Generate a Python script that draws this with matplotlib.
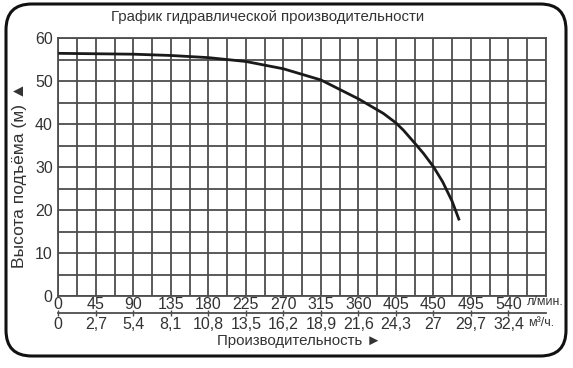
import matplotlib
matplotlib.use("Agg")
import matplotlib.pyplot as plt
from matplotlib.patches import FancyBboxPatch

plt.rcParams['font.family'] = ['Liberation Sans', 'DejaVu Sans']

# Data
flow_lpm = [0, 45, 90, 135, 180, 225, 270, 315, 360, 390, 405, 414, 427.5, 438, 450, 461, 472.5, 481]
head_m = [56.5, 56.4, 56.3, 56.0, 55.5, 54.6, 52.9, 50.3, 45.9, 42.5, 40.3, 38.6, 35.6, 33.2, 30.1, 26.6, 22.0, 17.6]

x_ticks_lpm = [0, 45, 90, 135, 180, 225, 270, 315, 360, 405, 450, 495, 540]
x_labels_lpm = ['0', '45', '90', '135', '180', '225', '270', '315', '360', '405', '450', '495', '540']
x_ticks_m3h = [0, 2.7, 5.4, 8.1, 10.8, 13.5, 16.2, 18.9, 21.6, 24.3, 27, 29.7, 32.4]
x_labels_m3h = ['0', '2,7', '5,4', '8,1', '10,8', '13,5', '16,2', '18,9', '21,6', '24,3', '27', '29,7', '32,4']
y_ticks = [0, 10, 20, 30, 40, 50, 60]

W, H = 573, 368
fig = plt.figure(figsize=(W / 100, H / 100), dpi=100)
fig.patch.set_facecolor('white')

# rounded frame
frame = FancyBboxPatch((6 / W, 1 - 356 / H), 560 / W, 352 / H,
                       boxstyle="round,pad=0,rounding_size=0.045",
                       transform=fig.transFigure, fill=False,
                       edgecolor='#111111', linewidth=2.2, mutation_aspect=W / H)
fig.patches.append(frame)

left, right, top, bottom = 58.3, 546, 38.3, 296
ax = fig.add_axes([left / W, 1 - bottom / H, (right - left) / W, (bottom - top) / H])
grid_c = '#4d4d4d'
ax.set_xlim(0, 585)
ax.set_ylim(0, 60)
ax.set_xticks([i * 22.5 for i in range(27)], minor=True)
ax.set_yticks([i * 5 for i in range(13)], minor=True)
ax.grid(True, which='both', color=grid_c, linewidth=1.3)
ax.set_axisbelow(True)
for s in ax.spines.values():
    s.set_color(grid_c)
    s.set_linewidth(1.3)

ax.plot(flow_lpm, head_m, color='#1a1a1a', linewidth=2.0, solid_capstyle='butt',
        solid_joinstyle='round', zorder=3)

ax.set_yticks(y_ticks)
ax.set_yticklabels([str(v) for v in y_ticks], fontsize=11.5, color='#333333')
ax.set_xticks(x_ticks_lpm)
ax.set_xticklabels(x_labels_lpm, fontsize=11.5, color='#333333')
ax.tick_params(axis='both', which='both', length=0)
ax.tick_params(axis='x', pad=1)
ax.tick_params(axis='y', pad=4)

sec = ax.secondary_xaxis(-0.066, functions=(lambda q: q * 0.06, lambda m: m / 0.06))
sec.set_xticks(x_ticks_m3h)
sec.set_xticklabels(x_labels_m3h, fontsize=11.5, color='#333333')
sec.spines['bottom'].set_color(grid_c)
sec.spines['bottom'].set_linewidth(1.3)
sec.tick_params(axis='x', direction='inout', length=4, width=1, color=grid_c, pad=1)

fig.text(527 / W, 1 - 302 / H, 'л/мин.', fontsize=9, color='#333333', va='center', ha='left')
fig.text(528 / W, 1 - 323 / H, 'м³/ч.', fontsize=9, color='#333333', va='center', ha='left')

fig.text(268 / W, 1 - 17 / H, 'График гидравлической производительности',
         fontsize=10.8, color='#333333', ha='center', va='center')
fig.text(299 / W, 1 - 341 / H, 'Производительность ►', fontsize=10.8, color='#333333',
         ha='center', va='center')
fig.text(20 / W, 1 - 175 / H, 'Высота подъёма (м) ▲', fontsize=12.5, color='#333333',
         ha='center', va='center', rotation=90)

fig.savefig('out.png', dpi=100, facecolor='white')
